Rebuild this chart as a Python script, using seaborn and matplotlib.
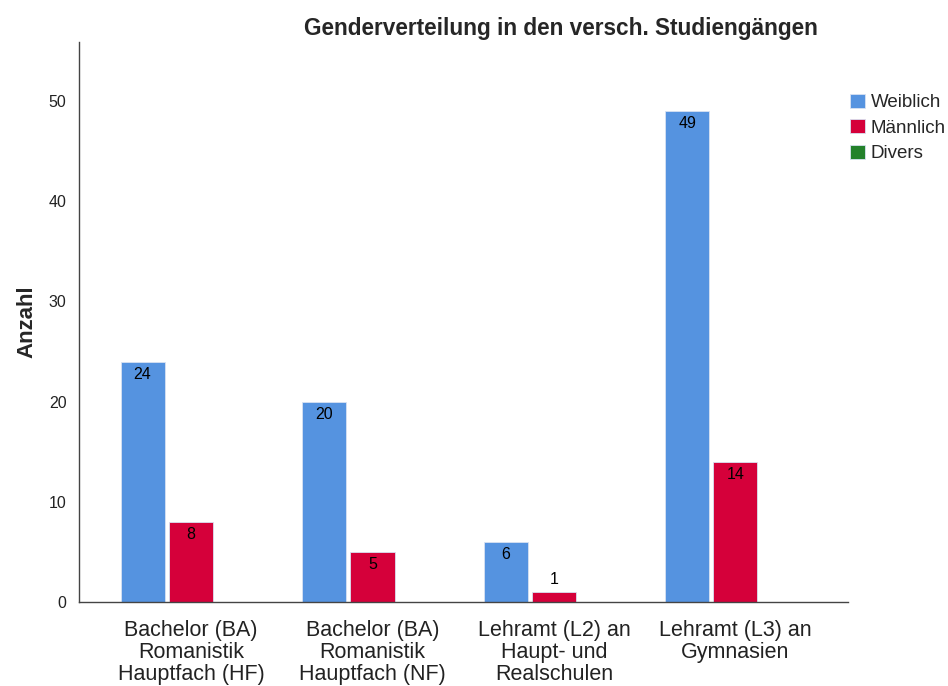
import numpy as np
import pandas as pd
import seaborn as sns
import matplotlib.pyplot as plt

# data
studiengaenge = [
    "Bachelor (BA)\nRomanistik\nHauptfach (HF)",
    "Bachelor (BA)\nRomanistik\nHauptfach (NF)",
    "Lehramt (L2) an\nHaupt- und\nRealschulen",
    "Lehramt (L3) an\nGymnasien",
]
geschlechter = ["Weiblich", "Männlich", "Divers"]
weiblich = [24, 20, 6, 49]
maennlich = [8, 5, 1, 14]
divers = [0, 0, 0, 0]
farben = ["#5593E0", "#D5003A", "#23812B"]

df = pd.DataFrame({
    "Studiengang": studiengaenge * 3,
    "Geschlecht": np.repeat(geschlechter, len(studiengaenge)),
    "Anzahl": weiblich + maennlich + divers,
})

sns.set_style("white")
plt.rcParams["font.family"] = ["Liberation Sans", "DejaVu Sans"]

fig = plt.figure(figsize=(9.48, 6.86), dpi=100)
ax = fig.add_axes([79 / 948, 1 - 602 / 686, (848 - 79) / 948, (602 - 42) / 686])

sns.barplot(data=df, x="Studiengang", y="Anzahl", hue="Geschlecht",
            hue_order=geschlechter, palette=farben, saturation=1,
            width=0.8, gap=0.09, edgecolor="#d8e2f2", linewidth=0.6, ax=ax)

# value labels inside the top of each bar (skip empty ones)
for cont in ax.containers:
    for bar in cont:
        h = bar.get_height()
        if h <= 0:
            continue
        x = bar.get_x() + bar.get_width() / 2
        if h >= 3:
            ax.text(x, h - 0.5, f"{int(h)}", ha="center", va="top",
                    fontsize=11.5, color="black")
        else:
            ax.text(x, h + 0.5, f"{int(h)}", ha="center", va="bottom",
                    fontsize=11.5, color="black")

ax.set_ylim(0, 55.9)
ax.set_xlim(-0.617, 3.62)
ax.set_yticks([0, 10, 20, 30, 40, 50])
ax.tick_params(axis="y", length=0, labelsize=11.5, pad=9, colors="#222222")
ax.tick_params(axis="x", length=0, labelsize=15.5, pad=13, colors="#222222")
for lbl in ax.get_xticklabels():
    lbl.set_linespacing(1.07)

ax.set_xlabel("")
ax.set_ylabel("Anzahl", fontsize=16, fontweight="bold", labelpad=8)

sns.despine(ax=ax)
for s in ["left", "bottom"]:
    ax.spines[s].set_color("#444444")
    ax.spines[s].set_linewidth(1.0)

leg = ax.legend(loc="upper left", bbox_to_anchor=(1.003, 0.908), frameon=False,
                fontsize=13.5, handlelength=0.8, handleheight=0.8,
                handletextpad=0.3, labelspacing=0.42, borderaxespad=0.0,
                borderpad=0.0)

fig.text(561 / 948, 1 - 28 / 686, "Genderverteilung in den versch. Studiengängen",
         ha="center", va="center", fontsize=16.3, fontweight="bold")

fig.savefig("out.png", dpi=100)
